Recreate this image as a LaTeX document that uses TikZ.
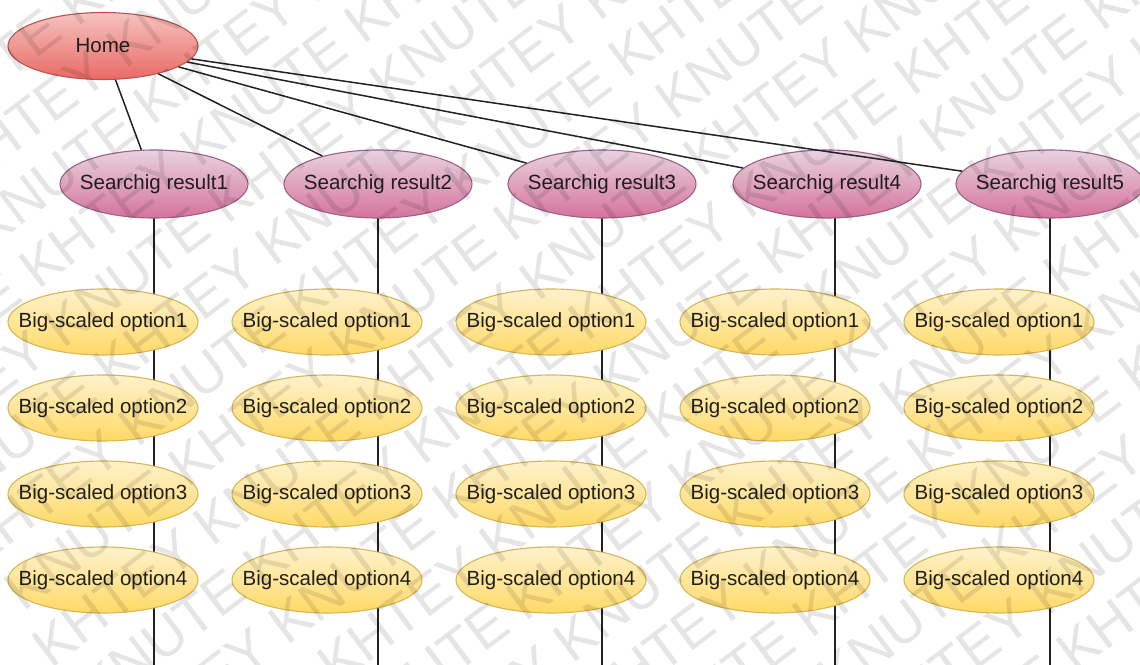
\documentclass[tikz,border=0pt]{standalone}
\usepackage{fontspec}
\setmainfont{Liberation Sans}
\usetikzlibrary{backgrounds,shapes.geometric}

\definecolor{homeTop}{HTML}{F6C2C0}
\definecolor{homeBot}{HTML}{E96A64}
\definecolor{homeLine}{HTML}{B85450}
\definecolor{resTop}{HTML}{E8D2E0}
\definecolor{resBot}{HTML}{D5739D}
\definecolor{resLine}{HTML}{996185}
\definecolor{optTop}{HTML}{FFF2CC}
\definecolor{optBot}{HTML}{FFD966}
\definecolor{optLine}{HTML}{D6B656}
\definecolor{edgeCol}{HTML}{222222}

% label of zero width, so that the ellipse keeps its given size
\newcommand{\ctr}[1]{\raisebox{-1.5pt}{\makebox[0pt][c]{#1}}}

\tikzset{
  bubble/.style={ellipse, inner sep=0pt, line width=1.1pt,
    font=\fontsize{20.5}{24}\selectfont, text=black!88},
  homenode/.style={bubble, draw=homeLine, top color=homeTop, bottom color=homeBot,
    minimum width=190pt, minimum height=67pt},
  resnode/.style={bubble, draw=resLine, top color=resTop, bottom color=resBot,
    minimum width=188pt, minimum height=68pt},
  optnode/.style={bubble, draw=optLine, top color=optTop, bottom color=optBot,
    minimum width=190pt, minimum height=66pt},
  link/.style={draw=edgeCol, line width=1.5pt},
  wmark/.style={font=\fontsize{56}{60}\selectfont, text=black, text opacity=0.10,
    inner sep=0pt}
}

\begin{document}
\begin{tikzpicture}[x=1pt, y=-1pt]
\useasboundingbox (0,0) rectangle (1140,664);

% root
\node[homenode] (home) at (103,46) {\ctr{Home}};

% search results
\foreach \i/\x in {1/154, 2/378, 3/602, 4/827, 5/1050}
  \node[resnode] (r\i) at (\x,184) {\ctr{Searchig result\i}};

% option columns
\foreach \c/\x in {1/103, 2/327, 3/551, 4/775, 5/999}
  \foreach \r/\y in {1/322, 2/408, 3/494, 4/580}
    \node[optnode] (o\c\r) at (\x,\y) {\ctr{Big-scaled option\r}};

\coordinate (bot) at (0,670);
\coordinate (l1) at (r1.center);
\coordinate (l2) at (r2.center);
\coordinate (l3) at (r3.center);
\coordinate (l4) at ([xshift=8pt]r4.center);
\coordinate (l5) at (r5.center);

\begin{scope}[on background layer]
  \fill[white] (0,0) rectangle (1140,664);
  \foreach \i in {1,...,5}
    \draw[link] (l\i) -- (l\i |- bot);
\end{scope}

\foreach \i in {1,...,5}
  \draw[link] (home) -- (r\i);

% watermark
\begin{scope}
  \clip (0,0) rectangle (1140,664);
  \foreach \k in {-9,...,9} {
    \pgfmathsetmacro{\sh}{mod(abs(\k),2)*190}
    \node[wmark, rotate=37] (wm\k) at ({570+\k*62*0.602+\sh*0.799},{332+\k*62*0.799-\sh*0.602})
      {KHTEY KNUTE KHTEY KNUTE KHTEY KNUTE KHTEY KNUTE};
  }
\end{scope}
\end{tikzpicture}
\end{document}
